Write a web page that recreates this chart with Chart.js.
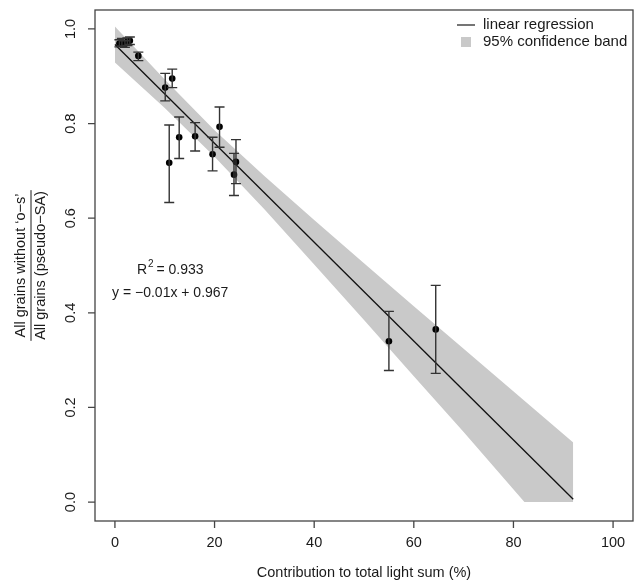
<!DOCTYPE html>
<html>
<head>
<meta charset="utf-8">
<script src="https://cdn.jsdelivr.net/npm/chart.js@4.4.1/dist/chart.umd.min.js"></script>
<style>
  html, body { margin: 0; padding: 0; background: #fff; }
  #chart { display: block; }
</style>
</head>
<body>
<canvas id="chart" width="638" height="580"></canvas>
<script>
// measured points (x = contribution %, y = ratio) with error bar ends
const pointX = [0.9, 1.4, 2.0, 2.5, 3.0, 4.7, 10.1, 11.5, 10.9, 12.9, 16.1, 21.0, 19.6, 24.3, 23.9, 55.0, 64.4];
const pointY = [0.969, 0.972, 0.968, 0.973, 0.975, 0.943, 0.876, 0.895, 0.717, 0.771, 0.773, 0.793, 0.735, 0.719, 0.692, 0.340, 0.365];
const errLow = [0.962, 0.964, 0.961, 0.965, 0.967, 0.933, 0.848, 0.876, 0.633, 0.726, 0.742, 0.750, 0.700, 0.673, 0.648, 0.278, 0.272];
const errHigh = [0.977, 0.980, 0.975, 0.981, 0.983, 0.951, 0.906, 0.915, 0.797, 0.814, 0.802, 0.835, 0.771, 0.766, 0.737, 0.403, 0.458];

// regression line ends
const fitX = [0, 92];
const fitY = [0.967, 0.006];

// 95% confidence band edges
const bandX = [0, 10, 20, 30, 40, 50, 60, 70, 82.2, 92];
const bandUpper = [1.005, 0.893, 0.786, 0.689, 0.596, 0.505, 0.414, 0.324, 0.214, 0.126];
const bandLower = [0.929, 0.833, 0.730, 0.619, 0.502, 0.385, 0.266, 0.148, 0.0, 0.0];

const xTicks = [0, 20, 40, 60, 80, 100];
const xTickLabels = ['0', '20', '40', '60', '80', '100'];
const yTicks = [0, 0.2, 0.4, 0.6, 0.8, 1.0];
const yTickLabels = ['0.0', '0.2', '0.4', '0.6', '0.8', '1.0'];

const FONT = '"Liberation Sans", Arial, sans-serif';
const INK = '#1a1a1a';

const toXY = (xs, ys) => xs.map((x, i) => ({ x: x, y: ys[i] }));

const errorBars = {
  id: 'errorBars',
  afterDatasetsDraw(chart) {
    const { ctx, scales: { x, y } } = chart;
    ctx.save();
    ctx.strokeStyle = '#333';
    ctx.lineWidth = 1.4;
    pointX.forEach((px, i) => {
      const cx = x.getPixelForValue(px);
      const top = y.getPixelForValue(errHigh[i]);
      const bot = y.getPixelForValue(errLow[i]);
      ctx.beginPath();
      ctx.moveTo(cx, top); ctx.lineTo(cx, bot);
      ctx.moveTo(cx - 5, top); ctx.lineTo(cx + 5, top);
      ctx.moveTo(cx - 5, bot); ctx.lineTo(cx + 5, bot);
      ctx.stroke();
    });
    ctx.restore();
  },
};

// R style frame, ticks, labels, titles, legend and annotation
const rAxes = {
  id: 'rAxes',
  afterDraw(chart) {
    const { ctx, chartArea: a, scales: { x, y } } = chart;
    ctx.save();
    ctx.strokeStyle = '#444';
    ctx.lineWidth = 1.3;
    ctx.strokeRect(a.left, a.top, a.right - a.left, a.bottom - a.top);

    ctx.fillStyle = INK;
    ctx.font = '14.5px ' + FONT;
    ctx.beginPath();
    xTicks.forEach((t) => {
      const px = x.getPixelForValue(t);
      ctx.moveTo(px, a.bottom); ctx.lineTo(px, a.bottom + 7);
    });
    yTicks.forEach((t) => {
      const py = y.getPixelForValue(t);
      ctx.moveTo(a.left, py); ctx.lineTo(a.left - 7, py);
    });
    ctx.stroke();

    ctx.textAlign = 'center';
    ctx.textBaseline = 'middle';
    xTicks.forEach((t, i) => {
      ctx.fillText(xTickLabels[i], x.getPixelForValue(t), a.bottom + 22);
    });
    yTicks.forEach((t, i) => {
      ctx.save();
      ctx.translate(a.left - 24, y.getPixelForValue(t));
      ctx.rotate(-Math.PI / 2);
      ctx.fillText(yTickLabels[i], 0, 0);
      ctx.restore();
    });

    // x title
    ctx.fillText('Contribution to total light sum (%)', (a.left + a.right) / 2, a.bottom + 52);

    // y title as a fraction
    ctx.save();
    ctx.translate(31, (a.top + a.bottom) / 2);
    ctx.rotate(-Math.PI / 2);
    const num = 'All grains without \u2018o\u2212s\u2019';
    const den = 'All grains (pseudo\u2212SA)';
    ctx.fillText(num, 0, -10);
    ctx.fillText(den, 0, 10);
    const w = Math.max(ctx.measureText(num).width, ctx.measureText(den).width) + 2;
    ctx.lineWidth = 1;
    ctx.strokeStyle = INK;
    ctx.beginPath();
    ctx.moveTo(-w / 2, 0); ctx.lineTo(w / 2, 0);
    ctx.stroke();
    ctx.restore();

    // annotation
    ctx.font = '14px ' + FONT;
    ctx.textBaseline = 'alphabetic';
    const ax = x.getPixelForValue(11.1);
    const r1 = 'R';
    const r2 = ' = 0.933';
    ctx.font = '10px ' + FONT;
    const supW = ctx.measureText('2').width;
    ctx.font = '14px ' + FONT;
    const rw = ctx.measureText(r1).width;
    const ew = ctx.measureText(r2).width;
    let sx = ax - (rw + supW + ew) / 2;
    const ry = y.getPixelForValue(0.483);
    ctx.textAlign = 'left';
    ctx.fillText(r1, sx, ry);
    ctx.font = '10px ' + FONT;
    ctx.fillText('2', sx + rw + 1, ry - 7);
    ctx.font = '14px ' + FONT;
    ctx.fillText(r2, sx + rw + supW, ry);
    ctx.textAlign = 'center';
    ctx.fillText('y = \u22120.01x + 0.967', ax, y.getPixelForValue(0.434));

    // legend
    ctx.font = '15px ' + FONT;
    ctx.textAlign = 'left';
    ctx.textBaseline = 'middle';
    const lx = a.right - 150;
    ctx.strokeStyle = INK;
    ctx.lineWidth = 1.2;
    ctx.beginPath();
    ctx.moveTo(lx - 26, a.top + 15); ctx.lineTo(lx - 8, a.top + 15);
    ctx.stroke();
    ctx.fillStyle = '#c9c9c9';
    ctx.fillRect(lx - 22, a.top + 27, 10, 10);
    ctx.fillStyle = INK;
    ctx.fillText('linear regression', lx, a.top + 15);
    ctx.fillText('95% confidence band', lx, a.top + 32);
    ctx.restore();
  },
};

new Chart(document.getElementById('chart'), {
  type: 'line',
  data: {
    datasets: [
      {
        label: 'band upper',
        data: toXY(bandX, bandUpper),
        borderWidth: 0,
        pointRadius: 0,
        fill: false,
        order: 4,
      },
      {
        label: '95% confidence band',
        data: toXY(bandX, bandLower),
        borderWidth: 0,
        pointRadius: 0,
        backgroundColor: '#c9c9c9',
        fill: '-1',
        order: 3,
      },
      {
        label: 'linear regression',
        data: toXY(fitX, fitY),
        borderColor: '#111',
        borderWidth: 1.3,
        pointRadius: 0,
        fill: false,
        order: 2,
      },
      {
        label: 'data',
        data: toXY(pointX, pointY),
        showLine: false,
        pointRadius: 3.3,
        pointBackgroundColor: '#000',
        pointBorderWidth: 0,
        order: 1,
      },
    ],
  },
  options: {
    responsive: false,
    animation: false,
    layout: { padding: { left: 95, top: 10, right: 5, bottom: 59 } },
    plugins: {
      legend: { display: false },
      tooltip: { enabled: false },
    },
    scales: {
      x: { type: 'linear', min: -4, max: 104, display: false },
      y: { type: 'linear', min: -0.04, max: 1.04, display: false },
    },
  },
  plugins: [errorBars, rAxes],
});
</script>
</body>
</html>
